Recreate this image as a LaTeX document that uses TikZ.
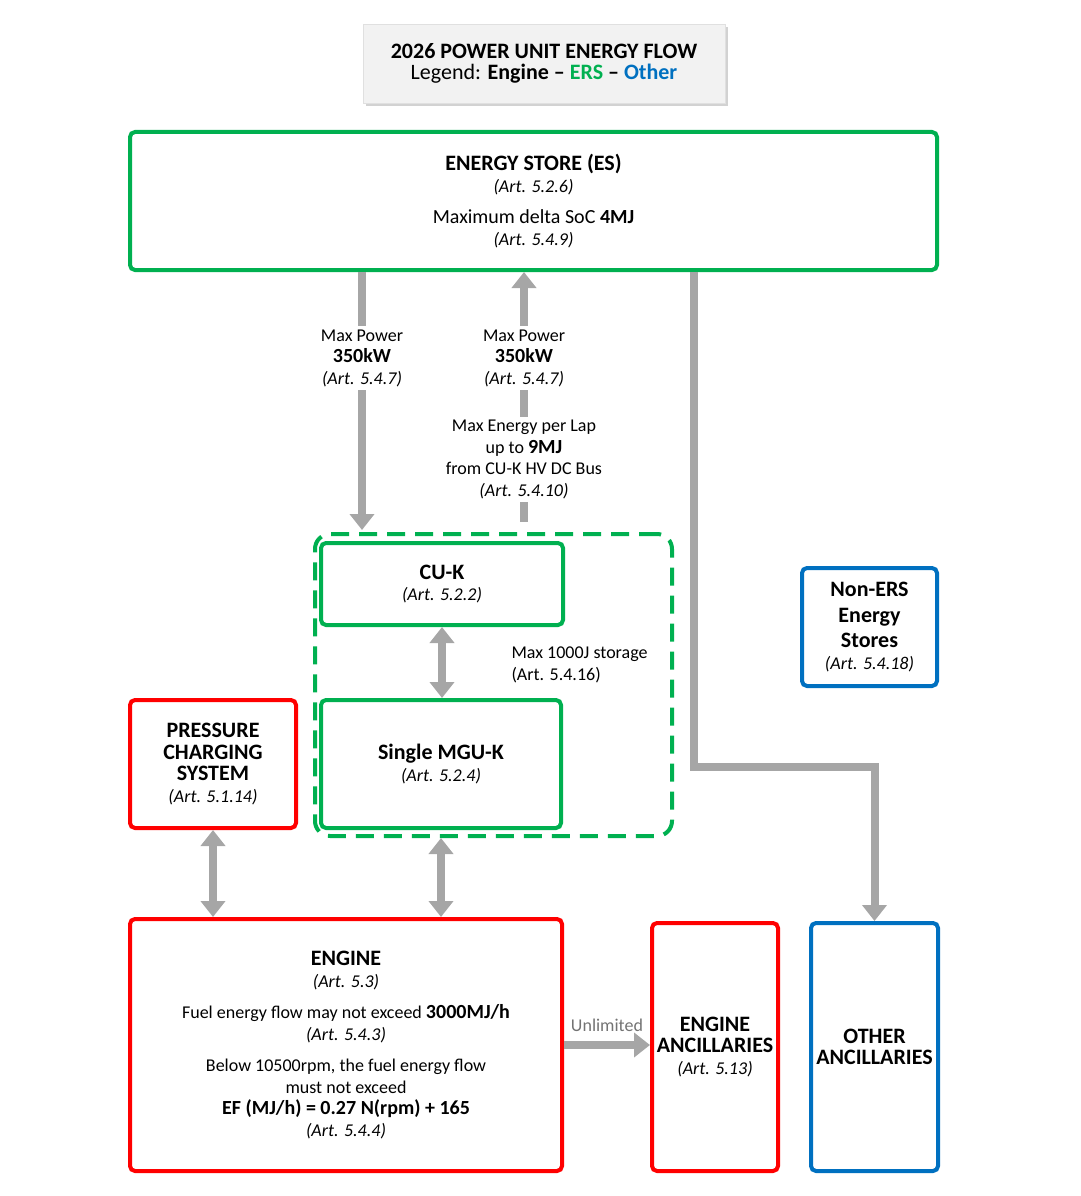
\documentclass[tikz,border=0pt]{standalone}
\usepackage{fontspec}
\setmainfont{Carlito}
\usetikzlibrary{arrows.meta, positioning, shadows}
\definecolor{ersgreen}{HTML}{00B050}
\definecolor{engred}{HTML}{FF0000}
\definecolor{othblue}{HTML}{0070C0}
\definecolor{flowgray}{HTML}{A6A6A6}
\newcommand{\art}[1]{\textit{(Art. #1)}}
\newcommand{\hd}[1]{{\fontsize{22}{22}\selectfont\bfseries #1}}
\newcommand{\bv}[1]{{\fontsize{20}{21.5}\selectfont\bfseries #1}}

\begin{document}
\begin{tikzpicture}[
        x=1pt, y=-1pt,
        font=\fontsize{18}{21.5}\selectfont,
        unitbox/.style={draw, line width=4pt, rounded corners=5pt, align=center, inner sep=0pt},
        ersbox/.style={unitbox, draw=ersgreen},
        engbox/.style={unitbox, draw=engred},
        othbox/.style={unitbox, draw=othblue},
        flow/.style={draw=flowgray, line width=8pt, -{Triangle[width=24pt,length=16pt]}},
        bflow/.style={flow, {Triangle[width=24pt,length=16pt]}-{Triangle[width=24pt,length=16pt]}},
        lbl/.style={fill=white, align=center, inner sep=3pt},
        ]
        \useasboundingbox (0,0) rectangle (1080,1196);

        % title and legend
        \node[fill=black!5, draw=black!12, minimum width=362pt, minimum height=79pt, align=center,
              drop shadow={shadow xshift=3pt, shadow yshift=-3pt, fill=black!35}]
              (title) at (544,63.5)
              {\hd{2026 POWER UNIT ENERGY FLOW}\\
               {\fontsize{22}{22}\selectfont Legend: \textbf{Engine -- \textcolor{ersgreen}{ERS} -- \textcolor{othblue}{Other}}}};

        % boxes
        \node[ersbox, minimum width=807pt, minimum height=138pt] (es) at (533.5,201)
              {\hd{ENERGY STORE (ES)}\\ \art{5.2.6}\\[10pt]
               {\fontsize{20}{21.5}\selectfont Maximum delta SoC \textbf{4MJ}}\\ \art{5.4.9}};
        \node[ersbox, dashed, dash pattern=on 18pt off 10pt, rounded corners=15pt,
              minimum width=357pt, minimum height=302pt] (ersk) at (493.5,685) {};
        \node[ersbox, minimum width=242pt, minimum height=82pt] (cuk) at (442,584)
              {\hd{CU-K}\\ \art{5.2.2}};
        \node[ersbox, minimum width=240pt, minimum height=128pt] (mguk) at (441,764)
              {\hd{Single MGU-K}\\ \art{5.2.4}};
        \node[engbox, minimum width=166pt, minimum height=128pt] (pcs) at (213,764)
              {\hd{PRESSURE}\\ \hd{CHARGING}\\ \hd{SYSTEM}\\ \art{5.1.14}};
        \node[engbox, minimum width=432pt, minimum height=252pt] (engine) at (346,1045)
              {\hd{ENGINE}\\ \art{5.3}\\[10pt]
               Fuel energy flow may not exceed \bv{3000MJ/h}\\ \art{5.4.3}\\[10pt]
               Below 10500rpm, the fuel energy flow\\ must not exceed\\
               \bv{EF (MJ/h) = 0.27 N(rpm) + 165}\\ \art{5.4.4}};
        \node[engbox, minimum width=126pt, minimum height=248pt] (eanc) at (715,1047)
              {\hd{ENGINE}\\ \hd{ANCILLARIES}\\ \art{5.13}};
        \node[othbox, minimum width=127pt, minimum height=248pt] (oanc) at (874.5,1047)
              {\hd{OTHER}\\ \hd{ANCILLARIES}};
        \node[othbox, minimum width=135pt, minimum height=118pt] (noners) at (869.5,627)
              {\hd{Non-ERS}\\[4pt] \hd{Energy}\\[4pt] \hd{Stores}\\ \art{5.4.18}};

        % flows
        \coordinate (dn) at (362,530);
        \coordinate (up) at (524,522);
        \coordinate (elbow) at (694,767);
        \draw[flow] (dn |- es.south) -- (dn);
        \draw[flow] (up) -- (up |- es.south);
        \draw[flow] (elbow |- es.south) -- (elbow) -| (oanc.north);
        \draw[bflow] (cuk.south) -- (cuk.south |- mguk.north);
        \draw[bflow] (pcs.south) -- (pcs.south |- engine.north);
        \draw[bflow] (mguk.south |- ersk.south) -- (mguk.south |- engine.north);
        \draw[flow] (engine.east) -- node[above=6pt, text=black!55] {Unlimited} (engine.east -| eanc.west);

        % labels
        \node[lbl] (pwrdn) at (362,358) {Max Power\\ \bv{350kW}\\ \art{5.4.7}};
        \node[lbl] (pwrup) at (524,358) {Max Power\\ \bv{350kW}\\ \art{5.4.7}};
        \node[lbl] (lap) at (524,459.5) {Max Energy per Lap\\ up to \bv{9MJ}\\ from CU-K HV DC Bus\\ \art{5.4.10}};
        \node[align=left, anchor=west] (stor) at (508,665) {Max 1000J storage\\ (Art. 5.4.16)};
      \end{tikzpicture}
\end{document}
